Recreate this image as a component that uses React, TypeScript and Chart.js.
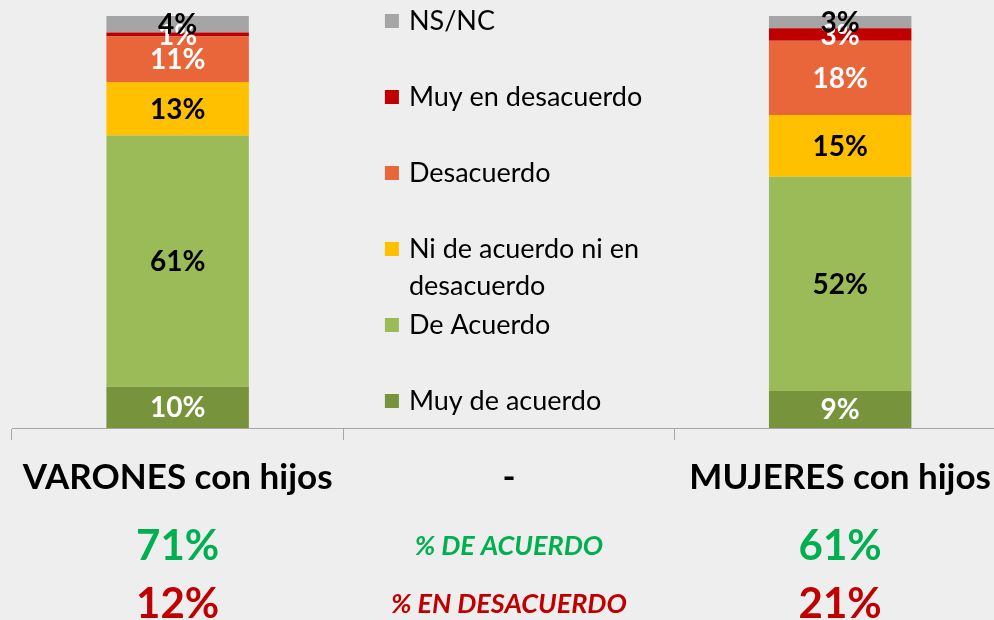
import React, { useEffect, useRef } from 'react';
import { Chart, registerables } from 'chart.js';

Chart.register(...registerables);

const FONT = 'Lato, "Noto Sans", sans-serif';

const categories = ['VARONES con hijos', '-', 'MUJERES con hijos'];
const acuerdoRow = ['71%', '% DE ACUERDO', '61%'];
const desacuerdoRow = ['12%', '% EN DESACUERDO', '21%'];

const seriesNames = [
  'Muy de acuerdo',
  'De Acuerdo',
  'Ni de acuerdo ni en desacuerdo',
  'Desacuerdo',
  'Muy en desacuerdo',
  'NS/NC',
];
const muyDeAcuerdo = [10, null, 9];
const deAcuerdo = [61, null, 52];
const niNi = [13, null, 15];
const desacuerdo = [11, null, 18];
const muyEnDesacuerdo = [1, null, 3];
const nsnc = [4, null, 3];

const seriesValues = [muyDeAcuerdo, deAcuerdo, niNi, desacuerdo, muyEnDesacuerdo, nsnc];
const seriesColors = ['#77933C', '#9BBB59', '#FFC000', '#E9663A', '#C00000', '#A5A5A5'];
const labelColors = ['#ffffff', '#000000', '#000000', '#ffffff', '#ffffff', '#000000'];

function wrapText(ctx: CanvasRenderingContext2D, text: string, maxW: number): string[] {
  const words = text.split(' ');
  const lines: string[] = [];
  let cur = '';
  for (const w of words) {
    const t = cur ? cur + ' ' + w : w;
    if (ctx.measureText(t).width > maxW && cur) {
      lines.push(cur);
      cur = w;
    } else {
      cur = t;
    }
  }
  if (cur) lines.push(cur);
  return lines;
}

const segLabelPlugin = {
  id: 'segLabels',
  afterDatasetsDraw(chart: any) {
    const ctx = chart.ctx;
    ctx.save();
    ctx.font = `bold 28px ${FONT}`;
    ctx.textAlign = 'center';
    ctx.textBaseline = 'middle';
    chart.data.datasets.forEach((ds: any, di: number) => {
      const meta = chart.getDatasetMeta(di);
      meta.data.forEach((el: any, i: number) => {
        const v = ds.data[i];
        if (v == null) return;
        const p = el.getProps(['x', 'y', 'base'], true);
        ctx.fillStyle = labelColors[di];
        ctx.fillText(`${v}%`, p.x, (p.y + p.base) / 2 + 1);
      });
    });
    ctx.restore();
  },
};

const midLegendPlugin = {
  id: 'midLegend',
  afterDraw(chart: any) {
    const ctx = chart.ctx;
    const cx = chart.scales.x.getPixelForValue(1);
    const top = chart.chartArea.top;
    const n = chart.data.datasets.length;
    ctx.save();
    ctx.font = `27px ${FONT}`;
    ctx.textBaseline = 'middle';
    ctx.textAlign = 'left';
    for (let k = 0; k < n; k++) {
      const di = n - 1 - k;
      const ds = chart.data.datasets[di];
      const yc = top + 5 + k * 76;
      ctx.fillStyle = ds.backgroundColor;
      ctx.fillRect(cx - 124, yc - 7, 14, 14);
      ctx.fillStyle = '#000000';
      const lines = wrapText(ctx, ds.label, 260);
      lines.forEach((ln, li) => ctx.fillText(ln, cx - 100, yc + li * 37));
    }
    ctx.restore();
  },
};

export default function App() {
  const ref = useRef<HTMLCanvasElement | null>(null);

  useEffect(() => {
    if (!ref.current) return;
    const bigFont = { family: FONT, size: 42, weight: 'bold', lineHeight: '50px' };
    const smallFont = { family: FONT, size: 27, weight: 'bold', style: 'italic', lineHeight: '50px' };
    const chart = new Chart(ref.current, {
      type: 'bar',
      data: {
        labels: categories,
        datasets: seriesNames.map((name, i) => ({
          label: name,
          data: seriesValues[i],
          backgroundColor: seriesColors[i],
          borderWidth: 0,
          barPercentage: 0.43,
          categoryPercentage: 1,
        })),
      },
      options: {
        responsive: false,
        animation: false,
        devicePixelRatio: 1,
        layout: { padding: { top: 16, left: 12, right: 0, bottom: 0 } },
        plugins: { legend: { display: false }, tooltip: { enabled: false } },
        scales: {
          y: { stacked: true, display: false, min: 0, max: 100 },
          x: {
            stacked: true,
            weight: 0,
            grid: {
              display: true,
              drawOnChartArea: false,
              drawTicks: true,
              tickLength: 12,
              color: '#a6a6a6',
              offset: true,
            },
            border: { display: true, color: '#a6a6a6' },
            ticks: {
              padding: 17,
              maxRotation: 0,
              autoSkip: false,
              color: '#000000',
              font: { family: FONT, size: 35, weight: 'bold', lineHeight: '42px' },
            },
          },
          xA: {
            type: 'category',
            position: 'bottom',
            weight: 1,
            offset: true,
            grid: { display: false, drawTicks: false },
            border: { display: false },
            ticks: {
              padding: 5,
              maxRotation: 0,
              autoSkip: false,
              color: '#00B050',
              callback: (_v: any, i: number) => acuerdoRow[i],
              font: (c: any) => (c.index === 1 ? smallFont : bigFont),
            },
          },
          xD: {
            type: 'category',
            position: 'bottom',
            weight: 2,
            offset: true,
            grid: { display: false, drawTicks: false },
            border: { display: false },
            ticks: {
              padding: 3,
              maxRotation: 0,
              autoSkip: false,
              color: '#C00000',
              callback: (_v: any, i: number) => desacuerdoRow[i],
              font: (c: any) => (c.index === 1 ? smallFont : bigFont),
            },
          },
        },
      } as any,
      plugins: [segLabelPlugin, midLegendPlugin],
    });
    return () => chart.destroy();
  }, []);

  return (
    <div
      style={{
        position: 'fixed',
        left: 0,
        top: 0,
        width: 994,
        height: 620,
        overflow: 'hidden',
        background: '#eeeeee',
      }}
    >
      <canvas ref={ref} width={1008} height={632} style={{ display: 'block', width: 1008, height: 632 }} />
    </div>
  );
}
